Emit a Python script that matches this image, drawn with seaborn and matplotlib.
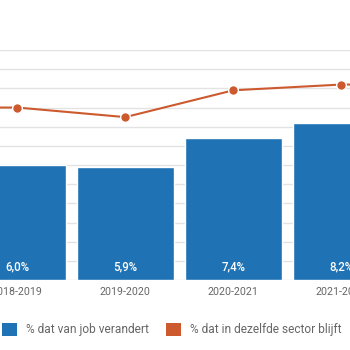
import numpy as np
import pandas as pd
import seaborn as sns
import matplotlib as mpl
mpl.use("Agg")
import matplotlib.pyplot as plt
from matplotlib.patches import Patch

# school years (first and last lie mostly outside the visible crop)
years = ['2017-2018', '2018-2019', '2019-2020', '2020-2021', '2021-2022', '2022-2023']
job_change = [6.2, 6.0, 5.9, 7.4, 8.2, 8.4]
same_sector = [9.0, 9.0, 8.5, 9.9, 10.2, 10.2]
bar_labels = ['6,2%', '6,0%', '5,9%', '7,4%', '8,2%', '8,4%']

blue = '#1f72b4'
orange = '#cc5a2e'
grey_txt = '#666666'

sns.set_style('white')
plt.rcParams['font.family'] = ['Roboto', 'DejaVu Sans']

df = pd.DataFrame({'year': years, 'job': job_change, 'sector': same_sector})

fig = plt.figure(figsize=(3.5, 3.5), dpi=100)
ax = fig.add_axes([0, 0.2, 1, 0.657])

sns.barplot(data=df, x='year', y='job', color=blue, saturation=1, width=0.9,
            ax=ax, zorder=2)
sns.pointplot(data=df, x='year', y='sector', color=orange, markers='o',
              linestyles='-', ax=ax, markersize=7, linewidth=1.5,
              markeredgecolor='white', markeredgewidth=1, zorder=3)

xmin, xmax = 0.84, 4.08
for i, lab in enumerate(bar_labels):
    if xmin - 0.5 < i < xmax + 0.5:
        ax.text(i, 0.7, lab, ha='center', va='center', color='white',
                fontsize=8.3, fontweight='medium')

ax.set_ylim(0, 12)
ax.set_xlim(xmin, xmax)
ax.set_yticks(np.arange(0, 13, 1))
ax.yaxis.grid(True, color='#e3e3e3', linewidth=1, zorder=0)
ax.set_axisbelow(True)
ax.set_yticklabels([])
ax.tick_params(axis='both', length=0)
ax.tick_params(axis='x', labelsize=7.7, labelcolor=grey_txt, pad=5)
ax.set_xlabel('')
ax.set_ylabel('')
for s in ax.spines.values():
    s.set_visible(False)

handles = [Patch(facecolor=blue, edgecolor='none'),
           Patch(facecolor=orange, edgecolor='none')]
fig.legend(handles, ['% dat van job verandert', '% dat in dezelfde sector blijft'],
           loc='center left', bbox_to_anchor=(0.005, 0.058), ncol=2, frameon=False,
           fontsize=8.6, labelcolor=grey_txt, handlelength=1.25, handleheight=1.25,
           handletextpad=0.8, columnspacing=1.4, borderpad=0, borderaxespad=0)

fig.savefig('out.png', dpi=100)
